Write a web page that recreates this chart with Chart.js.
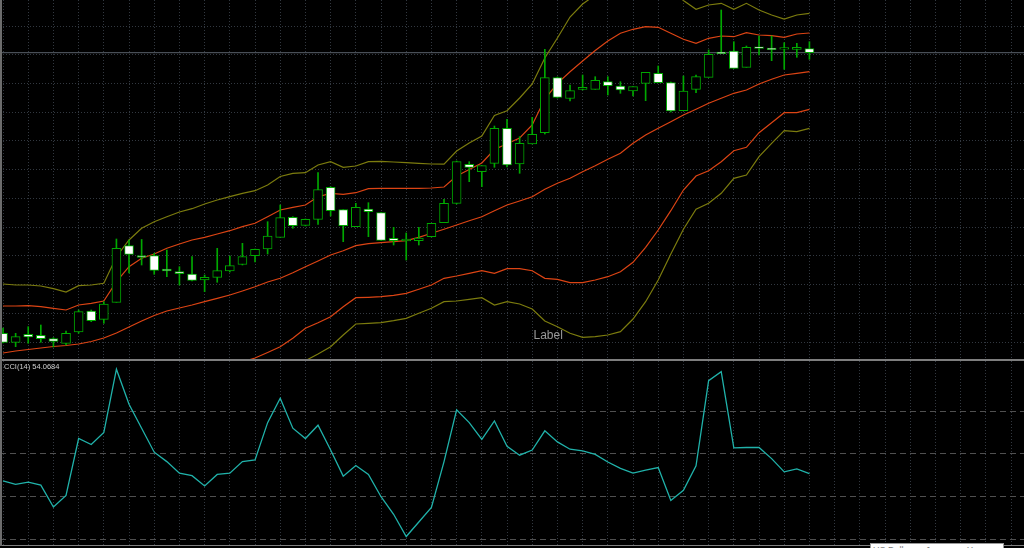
<!DOCTYPE html>
<html>
<head>
<meta charset="utf-8">
<title>USDJPY - Bollinger + CCI</title>
<script src="https://cdn.jsdelivr.net/npm/chart.js@4.4.1/dist/chart.umd.min.js"></script>
<style>
    html, body { margin: 0; padding: 0; background: #000; overflow: hidden; }
    #wrap { position: relative; width: 1024px; height: 548px; background: #000; }
    canvas { position: absolute; left: 0; }
    #priceChart { top: 0; }
    #cciChart { top: 361px; }
    .rule { position: absolute; left: 0; width: 1024px; background: #7e7e7e; }
    #leftEdge { position: absolute; left: 0; top: 0; width: 2px; height: 546px; background: #6c6c6c; }
    #caption {
        position: absolute; left: 870px; top: 543px; width: 134px; height: 12px;
        background: #fff; box-sizing: border-box; border: 1px solid #9a9a9a;
        font: 9px "Liberation Sans", Arial, sans-serif; color: #7a7a7a;
        padding-left: 2px; line-height: 12px; white-space: nowrap; overflow: hidden;
    }
</style>
</head>
<body>
<div id="wrap">
    <canvas id="priceChart" width="1024" height="359"></canvas>
    <div class="rule" style="top:359px;height:2px;"></div>
    <canvas id="cciChart" width="1024" height="184"></canvas>
    <div class="rule" style="top:545px;height:1px;"></div>
    <div id="leftEdge"></div>
    <div id="caption">US Dollar vs Japanese Yen</div>
</div>
<script>
// candles (USDJPY, one per bar, oldest first)
const open = [108.247,108.157,108.237,108.227,108.193,108.147,108.260,108.470,108.387,108.557,
    109.123,109.020,109.023,108.885,108.863,108.840,108.780,108.807,108.870,108.935,
    109.023,109.090,109.207,109.407,109.327,109.387,109.707,109.483,109.313,109.490,
    109.453,109.197,109.175,109.173,109.213,109.353,109.547,109.937,109.863,109.947,
    110.297,109.940,110.140,110.253,110.803,110.595,110.687,110.687,110.763,110.720,
    110.670,110.747,110.847,110.753,110.473,110.687,110.807,111.057,111.070,110.907,
    111.110,111.097,111.093,111.087,111.093];
const high = [108.300,108.247,108.313,108.330,108.203,108.270,108.480,108.480,108.563,109.190,
    109.180,109.185,109.047,109.080,108.913,109.013,108.830,109.097,109.020,109.147,
    109.090,109.363,109.530,109.413,109.390,109.853,109.713,109.483,109.547,109.553,
    109.453,109.307,109.250,109.307,109.347,109.587,109.970,109.963,109.923,110.320,
    110.387,110.213,110.407,111.087,110.810,110.730,110.830,110.813,110.813,110.763,
    110.713,110.857,110.920,110.760,110.820,110.830,111.080,111.480,111.163,111.120,
    111.220,111.220,111.153,111.147,111.163];
const low = [108.150,108.113,108.147,108.157,108.110,108.130,108.247,108.363,108.347,108.557,
    108.850,108.930,108.837,108.813,108.730,108.770,108.663,108.757,108.860,108.930,
    108.960,109.040,109.207,109.297,109.320,109.337,109.420,109.163,109.313,109.213,
    109.177,109.130,108.980,109.130,109.210,109.353,109.540,109.763,109.713,109.907,
    109.910,109.847,110.140,110.240,110.600,110.570,110.680,110.687,110.630,110.647,
    110.620,110.573,110.753,110.460,110.473,110.653,110.807,111.047,110.897,110.907,
    111.030,110.973,110.887,111.007,110.987];
const close = [108.157,108.213,108.210,108.193,108.167,108.247,108.463,108.373,108.540,109.097,
    109.037,109.010,108.877,108.875,108.843,108.777,108.807,108.873,108.923,109.013,
    109.087,109.220,109.403,109.323,109.387,109.683,109.473,109.323,109.507,109.463,
    109.177,109.173,109.185,109.200,109.347,109.547,109.963,109.907,109.923,110.297,
    109.930,110.147,110.237,110.803,110.607,110.673,110.707,110.777,110.723,110.680,
    110.713,110.857,110.753,110.470,110.670,110.813,111.037,111.047,110.897,111.107,
    111.097,111.087,111.100,111.107,111.053];

// band lines
const bandOuterUp = [108.74,108.73,108.73,108.72,108.693,108.66,108.723,108.73,108.747,109.013,
    109.18,109.297,109.363,109.413,109.46,109.493,109.54,109.58,109.613,109.647,
    109.673,109.73,109.815,109.847,109.853,109.93,109.963,109.907,109.92,109.963,
    109.967,109.96,109.953,109.947,109.94,109.938,110.07,110.15,110.22,110.425,
    110.473,110.60,110.74,111.00,111.20,111.41,111.54,111.63,111.74,111.83,
    111.90,111.90,111.81,111.69,111.575,111.487,111.53,111.547,111.487,111.547,
    111.48,111.43,111.39,111.43,111.447];
const bandInnerUp = [108.52,108.52,108.523,108.513,108.497,108.48,108.53,108.547,108.57,108.763,
    108.913,108.997,109.04,109.097,109.14,109.18,109.207,109.24,109.273,109.313,
    109.347,109.413,109.48,109.507,109.53,109.613,109.647,109.637,109.653,109.693,
    109.697,109.697,109.697,109.697,109.70,109.71,109.82,109.885,109.95,110.085,
    110.143,110.20,110.33,110.59,110.747,110.863,110.97,111.075,111.17,111.247,
    111.287,111.313,111.307,111.247,111.187,111.147,111.197,111.22,111.213,111.253,
    111.23,111.223,111.207,111.24,111.25];
const bandMiddle = [108.05,108.07,108.085,108.10,108.115,108.125,108.14,108.165,108.20,108.25,
    108.31,108.37,108.425,108.47,108.50,108.53,108.563,108.597,108.63,108.67,
    108.713,108.76,108.797,108.853,108.913,108.97,109.03,109.073,109.123,109.143,
    109.153,109.163,109.173,109.207,109.247,109.287,109.33,109.373,109.413,109.473,
    109.53,109.57,109.613,109.687,109.747,109.797,109.863,109.923,109.987,110.047,
    110.147,110.23,110.297,110.363,110.43,110.487,110.547,110.597,110.647,110.68,
    110.74,110.787,110.83,110.847,110.863];
const bandInnerDown = [107.64,107.67,107.69,107.71,107.73,107.75,107.77,107.79,107.80,107.73,
    107.69,107.72,107.76,107.79,107.82,107.84,107.86,107.88,107.92,107.96,
    108.00,108.055,108.113,108.197,108.297,108.353,108.413,108.513,108.603,108.607,
    108.613,108.627,108.647,108.687,108.73,108.797,108.82,108.847,108.873,108.847,
    108.893,108.893,108.873,108.797,108.787,108.753,108.753,108.78,108.813,108.863,
    108.957,109.107,109.28,109.473,109.68,109.82,109.873,109.963,110.073,110.107,
    110.253,110.353,110.453,110.453,110.487];
const bandOuterDown = [107.42,107.46,107.48,107.51,107.57,107.60,107.60,107.65,107.67,107.49,
    107.45,107.45,107.50,107.53,107.53,107.57,107.59,107.61,107.65,107.69,
    107.75,107.79,107.82,107.90,107.973,108.04,108.113,108.23,108.34,108.347,
    108.353,108.373,108.397,108.447,108.497,108.563,108.57,108.587,108.603,108.53,
    108.563,108.54,108.49,108.37,108.313,108.247,108.207,108.213,108.23,108.263,
    108.39,108.563,108.78,109.04,109.287,109.487,109.547,109.647,109.797,109.83,
    110.013,110.147,110.273,110.263,110.297];

// CCI(14)
const cci = [37,29,34,27,-24,3,136,122,150,298,216,160,104,82,55,49,25,52,55,82,
    86,173,230,160,136,167,109,48,73,52,0,-41,-93,-59,-25,82,203,173,134,177,
    118,97,109,154,128,111,107,99,81,66,55,62,68,-9,15,72,271,292,114,115,
    115,89,58,65,54.0684];
const cciLevels = [200, 100, 0, -100];
const cciTitle = 'CCI(14) 54.0684';

// text object on the chart
const labelText = 'Label';
const labelBar = 42.1;
const labelPrice = 108.22;

// view window (bars / price)
const barMin = -0.24, barMax = 81.03;
const priceMin = 107.99, priceMax = 111.58;
const priceGridTop = 111.32, priceGridStep = 0.2873;
const cciMin = -112.85, cciMax = 317.06;

const GRID = '#323840';
const CANDLE_EDGE = '#00a800';
const OLIVE = '#7c7c0e';
const RED = '#dc4414';

function toPoints(arr) {
    return arr.map((v, i) => ({ x: i, y: v }));
}

function evenBarTicks(scale) {
    const t = [];
    for (let v = 0; v <= barMax; v += 2) t.push({ value: v });
    scale.ticks = t;
}

function xAxis() {
    return {
        type: 'linear', min: barMin, max: barMax, offset: false,
        afterBuildTicks: evenBarTicks,
        ticks: { display: false },
        grid: { color: GRID, drawTicks: false, offset: false },
        border: { display: false, dash: [1, 2] }
    };
}

// candles = a thin wick bar + a body bar on top
const wickData = open.map((o, i) => ({ x: i, y: [low[i], high[i]] }));
const bodyData = open.map((o, i) => {
    let a = Math.min(o, close[i]), b = Math.max(o, close[i]);
    if (b - a < 0.016) { const m = (a + b) / 2; a = m - 0.008; b = m + 0.008; }
    return { x: i, y: [a, b] };
});
const bodyFill = open.map((o, i) => close[i] >= o ? '#000000' : '#ffffff');
const lastClose = close[close.length - 1];

function bandLine(arr, color) {
    return {
        type: 'line', data: toPoints(arr), borderColor: color, borderWidth: 1.2,
        pointRadius: 0, tension: 0, order: 5
    };
}

const labelPlugin = {
    id: 'labelPlugin',
    afterDatasetsDraw(chart) {
        const c = chart.ctx;
        c.save();
        c.font = '12px "Liberation Sans", Arial, sans-serif';
        c.fillStyle = '#9a9a9a';
        c.textAlign = 'left';
        c.textBaseline = 'middle';
        c.fillText(labelText, chart.scales.x.getPixelForValue(labelBar), chart.scales.y.getPixelForValue(labelPrice));
        c.restore();
    }
};

new Chart(document.getElementById('priceChart'), {
    type: 'bar',
    data: {
        datasets: [
            {
                type: 'line',
                data: [{ x: barMin, y: lastClose }, { x: barMax, y: lastClose }],
                borderColor: '#5a626c', borderWidth: 1, pointRadius: 0, order: 10
            },
            bandLine(bandOuterUp, OLIVE),
            bandLine(bandInnerUp, RED),
            bandLine(bandMiddle, RED),
            bandLine(bandInnerDown, RED),
            bandLine(bandOuterDown, OLIVE),
            {
                data: wickData, backgroundColor: CANDLE_EDGE, borderWidth: 0,
                barThickness: 1, grouped: false, order: 2
            },
            {
                data: bodyData, backgroundColor: bodyFill, borderColor: CANDLE_EDGE,
                borderWidth: 1, borderSkipped: false, barThickness: 9, grouped: false, order: 1
            }
        ]
    },
    options: {
        responsive: false,
        animation: false,
        devicePixelRatio: 1,
        layout: { padding: 0 },
        plugins: { legend: { display: false }, tooltip: { enabled: false } },
        scales: {
            x: xAxis(),
            y: {
                type: 'linear', min: priceMin, max: priceMax,
                afterBuildTicks: scale => {
                    const t = [];
                    for (let v = priceGridTop; v > priceMin; v -= priceGridStep) t.push({ value: v });
                    scale.ticks = t;
                },
                ticks: { display: false },
                grid: { color: GRID, drawTicks: false },
                border: { display: false, dash: [1, 2] }
            }
        }
    },
    plugins: [labelPlugin]
});

const cciTitlePlugin = {
    id: 'cciTitle',
    afterDraw(chart) {
        const c = chart.ctx;
        c.save();
        c.font = '7.5px "Liberation Sans", Arial, sans-serif';
        c.fillStyle = '#d0d0d0';
        c.textAlign = 'left';
        c.textBaseline = 'top';
        c.fillText(cciTitle, 4, 2);
        c.restore();
    }
};

new Chart(document.getElementById('cciChart'), {
    type: 'line',
    data: {
        datasets: [{
            data: toPoints(cci), borderColor: '#20b2aa', borderWidth: 1.3,
            pointRadius: 0, tension: 0
        }]
    },
    options: {
        responsive: false,
        animation: false,
        devicePixelRatio: 1,
        layout: { padding: 0 },
        plugins: { legend: { display: false }, tooltip: { enabled: false } },
        scales: {
            x: xAxis(),
            y: {
                type: 'linear', min: cciMin, max: cciMax,
                afterBuildTicks: scale => { scale.ticks = cciLevels.map(v => ({ value: v })); },
                ticks: { display: false },
                grid: { color: '#505050', drawTicks: false, lineWidth: 1 },
                border: { display: false, dash: [6, 4] }
            }
        }
    },
    plugins: [cciTitlePlugin]
});
</script>
</body>
</html>
